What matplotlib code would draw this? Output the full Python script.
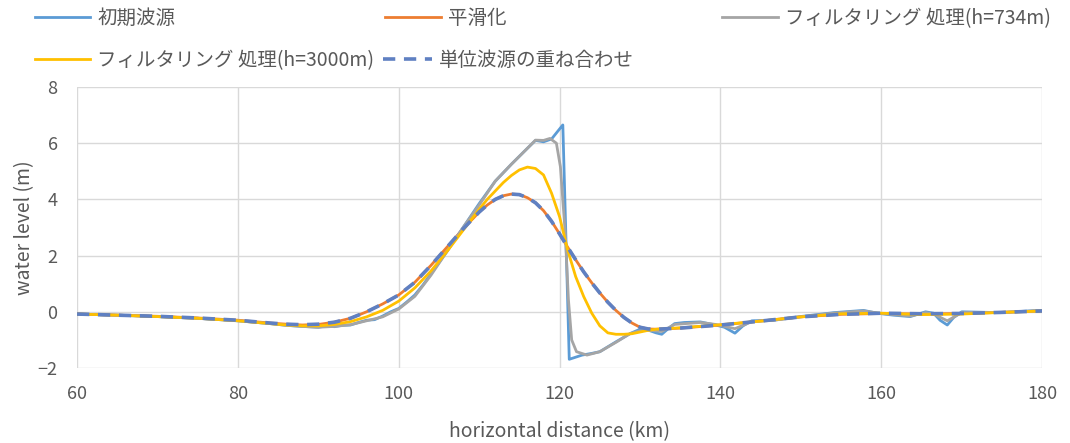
import matplotlib
matplotlib.use('Agg')
import matplotlib.pyplot as plt

plt.rcParams['font.family'] = ['Noto Sans CJK JP', 'DejaVu Sans']

# grid for the smooth series (km)
x_smooth = [60, 65, 70, 75, 80, 84, 86, 88, 90, 92, 94, 96, 98, 100, 102, 104, 106, 108,
            110, 111, 112, 113, 114, 115, 116, 117, 118, 119, 120, 121, 122, 123, 124, 125,
            126, 127, 128, 129, 130, 131, 132, 135, 140, 145, 150, 155, 160, 165, 170, 175, 180]

# 平滑化
smoothed = [-0.08, -0.12, -0.16, -0.22, -0.30, -0.40, -0.44, -0.47, -0.45, -0.37, -0.23, 0.00,
            0.28, 0.60, 1.05, 1.65, 2.30, 2.95, 3.55, 3.80, 4.00, 4.13, 4.19, 4.17, 4.06, 3.88,
            3.60, 3.22, 2.77, 2.30, 1.85, 1.42, 1.03, 0.67, 0.34, 0.05, -0.20, -0.40, -0.55,
            -0.61, -0.62, -0.58, -0.47, -0.33, -0.18, -0.09, -0.06, -0.08, -0.06, -0.02, 0.03]

# 単位波源の重ね合わせ
superposed = [-0.08, -0.12, -0.16, -0.22, -0.30, -0.40, -0.44, -0.46, -0.44, -0.37, -0.23, 0.00,
              0.28, 0.60, 1.05, 1.65, 2.30, 2.95, 3.55, 3.80, 4.00, 4.13, 4.19, 4.17, 4.06, 3.88,
              3.60, 3.22, 2.77, 2.30, 1.85, 1.42, 1.03, 0.67, 0.34, 0.05, -0.20, -0.40, -0.55,
              -0.61, -0.62, -0.58, -0.47, -0.33, -0.18, -0.09, -0.05, -0.07, -0.06, -0.02, 0.03]

# フィルタリング処理 (h=3000m)
filt_3000 = [-0.08, -0.12, -0.17, -0.23, -0.32, -0.42, -0.47, -0.50, -0.50, -0.45, -0.35, -0.18,
             0.05, 0.38, 0.85, 1.45, 2.15, 2.90, 3.65, 4.00, 4.30, 4.60, 4.85, 5.05, 5.15, 5.10,
             4.87, 4.22, 3.38, 2.20, 1.25, 0.54, -0.05, -0.50, -0.75, -0.80, -0.80, -0.78, -0.72,
             -0.66, -0.62, -0.57, -0.46, -0.33, -0.18, -0.07, -0.05, -0.10, -0.08, -0.02, 0.03]

# 初期波源
x_init = [60, 65, 70, 75, 80, 84, 86, 88, 90, 91, 92, 93, 94, 95, 96, 97, 98, 99, 100, 101,
          102, 103, 104, 105, 106, 108, 110, 112, 114, 116, 117, 118, 119, 120.4, 121.2, 122.8,
          124, 125, 127, 128.8, 130, 131, 132, 132.7, 133.5, 134.3, 135.5, 137.5, 139.4, 140.5,
          141.8, 142.8, 143.9, 146.6, 149.9, 154.1, 157.8, 159.5, 161.5, 163.6, 165.5, 166.5,
          167.3, 168.2, 169, 170, 174.8, 178.9, 180]
initial = [-0.08, -0.12, -0.17, -0.23, -0.32, -0.42, -0.48, -0.52, -0.55, -0.50, -0.53, -0.48,
           -0.47, -0.38, -0.30, -0.28, -0.15, 0.00, 0.12, 0.35, 0.60, 0.95, 1.35, 1.75, 2.15,
           3.00, 3.85, 4.65, 5.25, 5.82, 6.10, 6.05, 6.15, 6.65, -1.69, -1.54, -1.48, -1.42,
           -1.07, -0.77, -0.62, -0.65, -0.75, -0.80, -0.60, -0.42, -0.38, -0.36, -0.47, -0.55,
           -0.76, -0.50, -0.32, -0.30, -0.17, -0.03, 0.05, -0.05, -0.12, -0.17, 0.00, -0.05,
           -0.30, -0.47, -0.20, 0.00, -0.03, 0.04, 0.05]

# フィルタリング処理 (h=734m)
x_734 = [60, 65, 70, 75, 80, 84, 86, 88, 90, 92, 94, 96, 98, 100, 102, 104, 106, 108, 110,
         112, 114, 116, 117, 118, 118.8, 119.6, 120.1, 120.7, 121.1, 121.5, 122.1, 123.4, 125,
         127.1, 128.8, 130, 131, 132.7, 134.3, 137.5, 139.4, 141.8, 143.9, 146.6, 150, 154,
         157.8, 160, 163.6, 165.5, 166.5, 168.2, 170, 175, 180]
filt_734 = [-0.08, -0.12, -0.17, -0.23, -0.32, -0.42, -0.48, -0.52, -0.55, -0.52, -0.46, -0.32,
            -0.18, 0.10, 0.55, 1.30, 2.15, 3.00, 3.80, 4.65, 5.25, 5.82, 6.11, 6.10, 6.17, 6.00,
            5.16, 2.79, 0.42, -1.00, -1.42, -1.54, -1.42, -1.07, -0.77, -0.68, -0.65, -0.70,
            -0.45, -0.38, -0.45, -0.60, -0.35, -0.30, -0.18, -0.05, 0.03, -0.06, -0.15, -0.03,
            -0.08, -0.32, -0.03, -0.02, 0.04]

fig = plt.figure(figsize=(10.7, 4.43), dpi=100)
ax = fig.add_axes([0.072, 0.1693, 0.902, 0.6343])

l1, = ax.plot(x_init, initial, color='#5B9BD5', lw=2.0)
l2, = ax.plot(x_smooth, smoothed, color='#ED7D31', lw=2.0)
l3, = ax.plot(x_734, filt_734, color='#A5A5A5', lw=2.0)
l4, = ax.plot(x_smooth, filt_3000, color='#FFC000', lw=2.0)
l5, = ax.plot(x_smooth, superposed, color='#5F80C2', lw=2.6, dashes=(3.4, 2.4))

ax.set_xlim(60, 180)
ax.set_ylim(-2, 8)
ax.set_xticks(range(60, 181, 20))
ax.set_yticks(range(-2, 9, 2))
ax.grid(True, color='#D9D9D9', lw=1.0)
ax.set_axisbelow(True)
for s in ax.spines.values():
    s.set_visible(False)
ax.tick_params(length=0, labelsize=13, labelcolor='#595959')
ax.tick_params(axis='x', pad=12.5)
ax.tick_params(axis='y', pad=14)

ax.set_xlabel('horizontal distance (km)', fontsize=14, color='#595959', labelpad=13)
ax.set_ylabel('water level (m)', fontsize=14, color='#595959', labelpad=2)

# legend entries laid out the way the spreadsheet places them
entries = [
    (l1, '初期波源', 0.0327, 0.958, 2.85),
    (l2, '平滑化', 0.360, 0.958, 2.85),
    (l3, 'フィルタリング 処理(h=734m)', 0.675, 0.958, 2.85),
    (l4, 'フィルタリング 処理(h=3000m)', 0.0327, 0.864, 2.85),
    (l5, '単位波源の重ね合わせ', 0.358, 0.864, 2.5),
]
for h, lab, fx, fy, hl in entries:
    fig.legend([h], [lab], loc='center left', bbox_to_anchor=(fx, fy), frameon=False,
               fontsize=14, labelcolor='#595959', handlelength=hl, handletextpad=0.36,
               borderpad=0, borderaxespad=0)

fig.savefig('out.png', dpi=100)
